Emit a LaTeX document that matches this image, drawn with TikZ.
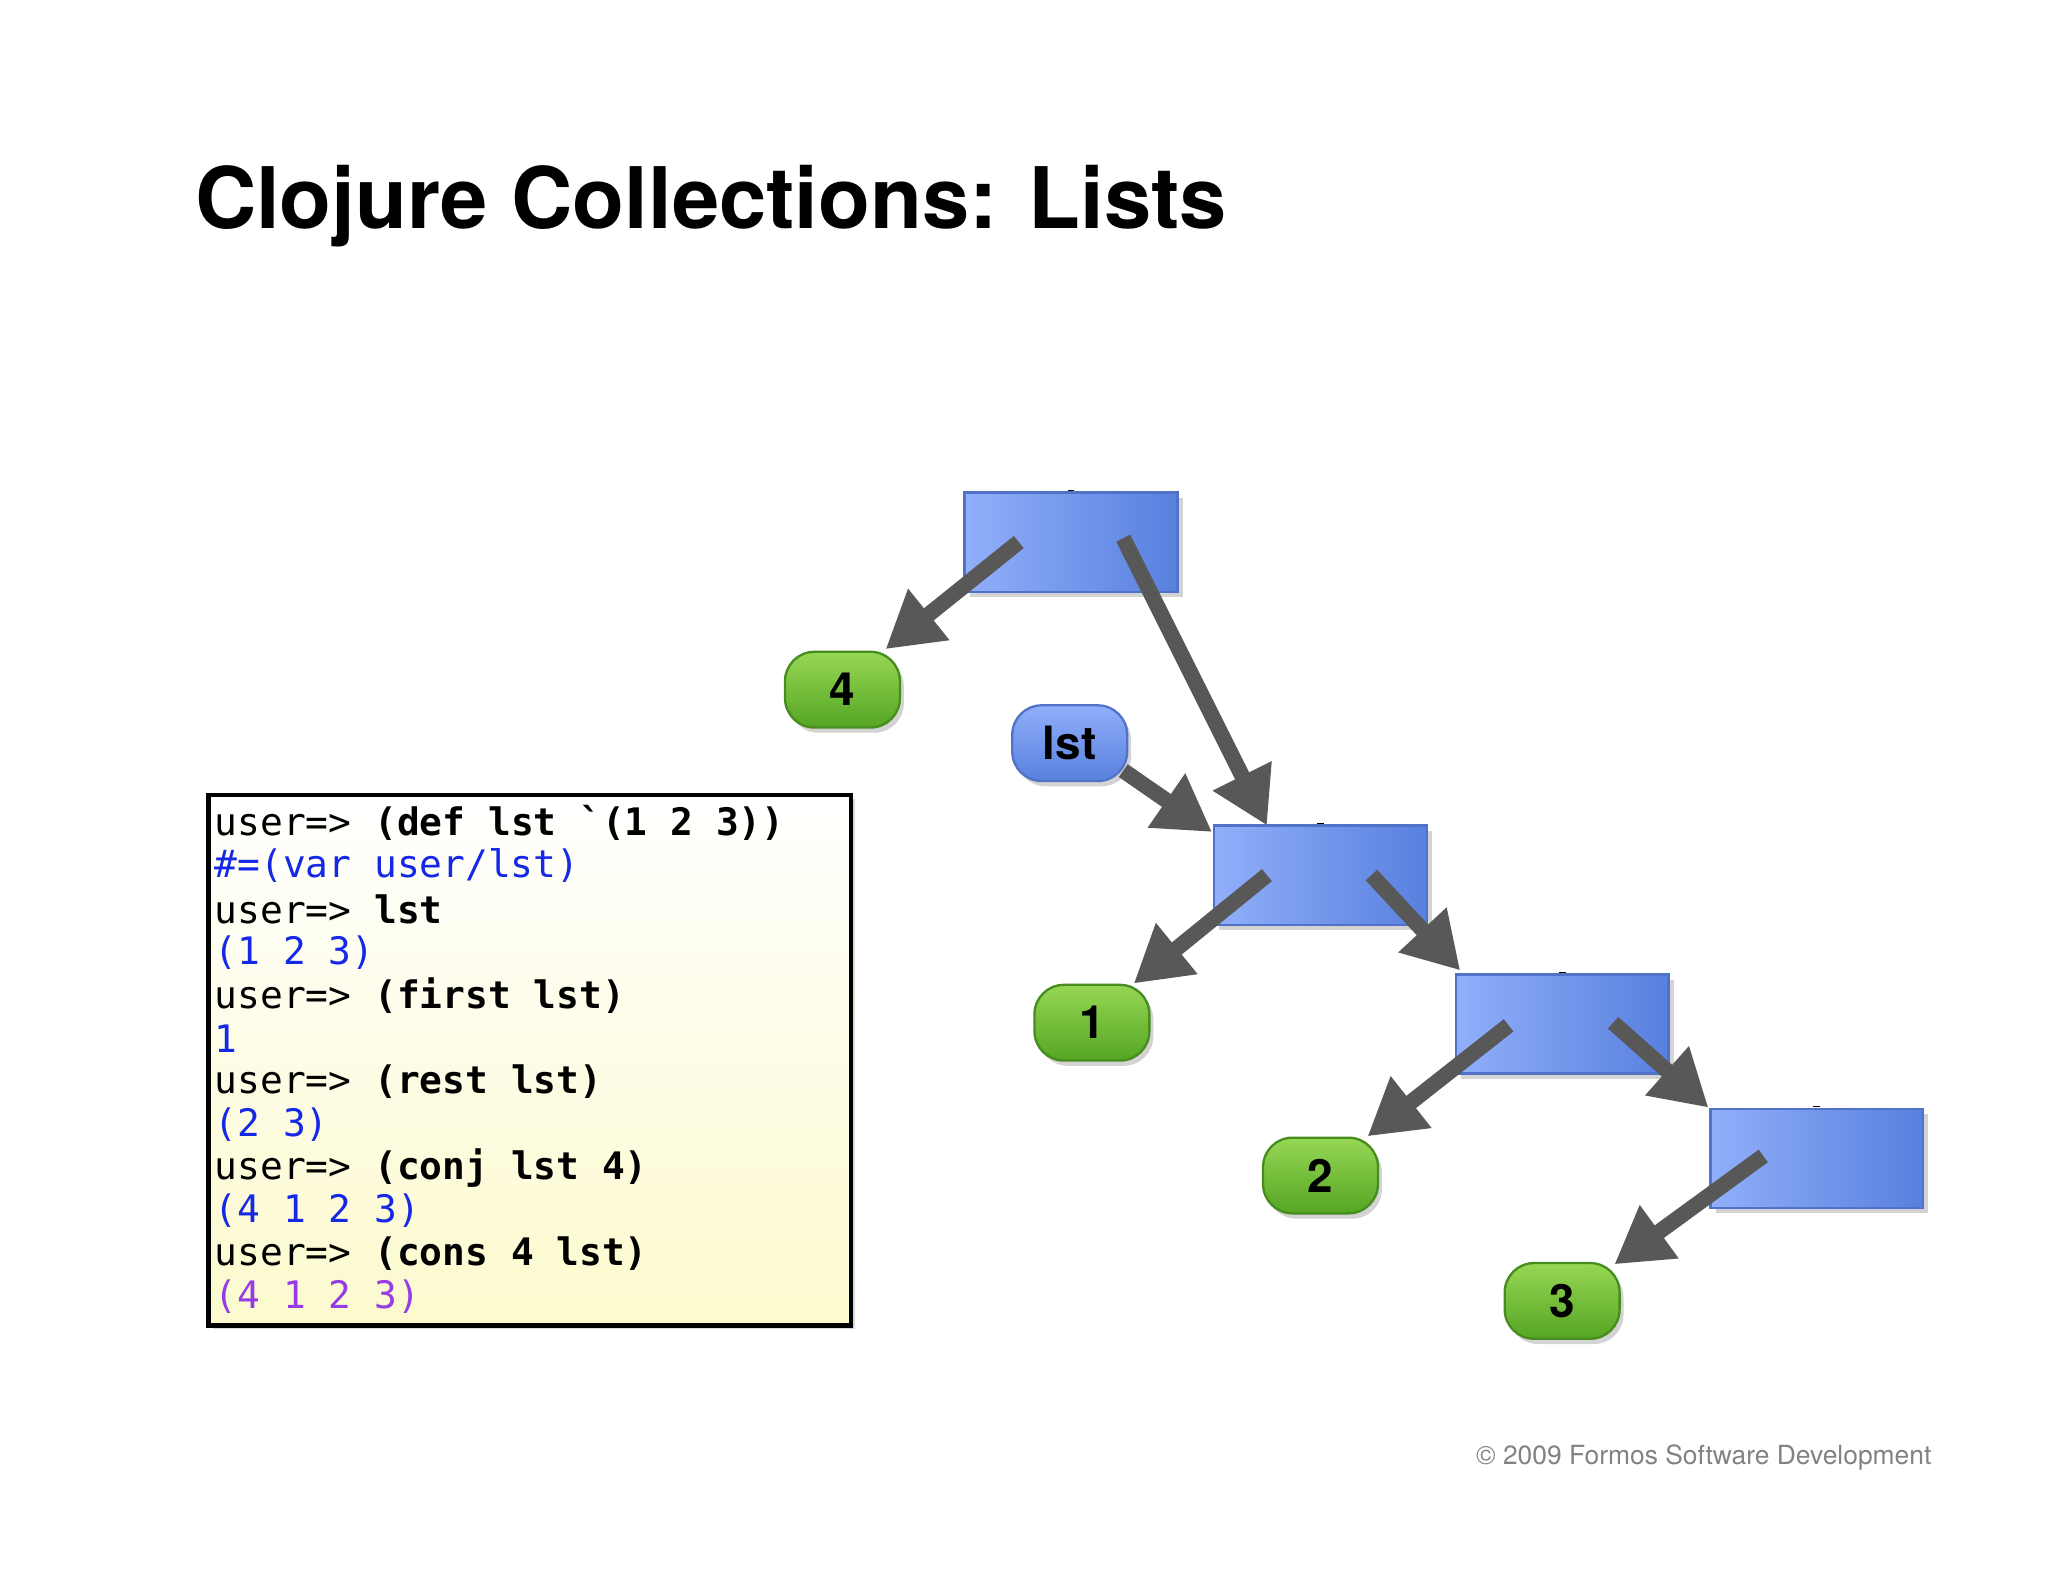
\documentclass[tikz,border=0pt]{standalone}
\usepackage{fontspec}
\setmainfont{TeX Gyre Heros}
\newfontfamily\monof{DejaVu Sans Mono}
\usetikzlibrary{arrows.meta,shadows}
\definecolor{bL}{RGB}{145,175,250}
\definecolor{bR}{RGB}{88,128,222}
\definecolor{bE}{RGB}{80,115,200}
\definecolor{gT}{RGB}{150,215,85}
\definecolor{gB}{RGB}{85,165,35}
\definecolor{gE}{RGB}{70,140,30}
\definecolor{outb}{RGB}{20,40,230}
\definecolor{outp}{RGB}{150,60,230}
\definecolor{arr}{RGB}{88,88,88}
\tikzset{
 cell/.style={draw=bE,line width=1pt,left color=bL,right color=bR,minimum width=3.26cm,minimum height=1.52cm,drop shadow={shadow xshift=0.08cm,shadow yshift=-0.08cm,opacity=0.35}},
 pill/.style={draw=gE,line width=1pt,top color=gT,bottom color=gB,rounded corners=0.45cm,minimum width=1.76cm,minimum height=1.16cm,font=\bfseries\fontsize{20}{20}\selectfont,drop shadow={shadow xshift=0.06cm,shadow yshift=-0.08cm,opacity=0.35}},
 bpill/.style={pill,draw=bE,top color=bL,bottom color=bR},
 ptr/.style={draw=arr,line width=6.8pt,-{Triangle[length=0.85cm,width=0.95cm]},shorten >=0pt},
 code/.style={anchor=west,inner sep=0pt,font=\monof\fontsize{16.5}{16.5}\selectfont},
}
\begin{document}
\begin{tikzpicture}[x=0.02cm,y=-0.02cm]
\useasboundingbox (0,0) rectangle (1568,1211);
\node[anchor=base west,inner sep=0pt,font=\bfseries\fontsize{37}{37}\selectfont] (title) at (149,175) {Clojure Collections: Lists};
% code box
\node[draw=black,line width=2pt,top color=white,bottom color={rgb,255:red,252;green,250;blue,205},minimum width=9.84cm,minimum height=8.12cm,anchor=north west,drop shadow={shadow xshift=0.06cm,shadow yshift=-0.06cm,opacity=0.3}] (box) at (158,607) {};
\node[code] (l1) at (164,630) {user=> \textbf{(def lst `(1 2 3))}};
\node[code,text=outb] (l2) at (164,663) {\#=(var user/lst)};
\node[code] (l3) at (164,696) {user=> \textbf{lst}};
\node[code,text=outb] (l4) at (164,729) {(1 2 3)};
\node[code] (l5) at (164,762) {user=> \textbf{(first lst)}};
\node[code,text=outb] (l6) at (164,795) {1};
\node[code] (l7) at (164,828) {user=> \textbf{(rest lst)}};
\node[code,text=outb] (l8) at (164,861) {(2 3)};
\node[code] (l9) at (164,894) {user=> \textbf{(conj lst 4)}};
\node[code,text=outb] (l10) at (164,927) {(4 1 2 3)};
\node[code] (l11) at (164,960) {user=> \textbf{(cons 4 lst)}};
\node[code,text=outb] (l12) at (164,993) {\textcolor{outp}{(4 1 2 3)}};
% cells
\node[cell] (A) at (820,415) {};
\node[cell] (B) at (1011,670) {};
\node[cell] (C) at (1196,784) {};
\node[cell] (D) at (1391,887) {};
\foreach \n in {A,B,C,D}{\draw[line width=3pt] (\n.north)++(0,-0.3) -- ++(0,-0.92);}
% values
\node[pill] (v4) at (645,528) {4};
\node[pill] (v1) at (836,783) {1};
\node[pill] (v2) at (1011,900) {2};
\node[pill] (v3) at (1196,996) {3};
\node[bpill] (lst) at (819,569) {lst};
% arrows
\coordinate (a1) at (780,415); \coordinate (a2) at (860,412);
\coordinate (b1) at (970,670); \coordinate (b2) at (1050,670);
\coordinate (c1) at (1155,785); \coordinate (c2) at (1235,783);
\coordinate (d1) at (1350,885);
\draw[ptr] (a1) -- (678,497);
\draw[ptr] (a2) -- (970,632);
\draw[ptr] (860,590) -- (928,637);
\draw[ptr] (b1) -- (868,753);
\draw[ptr] (b2) -- (1118,743);
\draw[ptr] (c1) -- (1047,870);
\draw[ptr] (c2) -- (1308,848);
\draw[ptr] (d1) -- (1236,968);
\node[anchor=base east,inner sep=0pt,text={rgb,255:red,130;green,130;blue,130},font=\fontsize{11.5}{12}\selectfont] (copy) at (1479,1121) {© 2009 Formos Software Development};
\end{tikzpicture}
\end{document}
